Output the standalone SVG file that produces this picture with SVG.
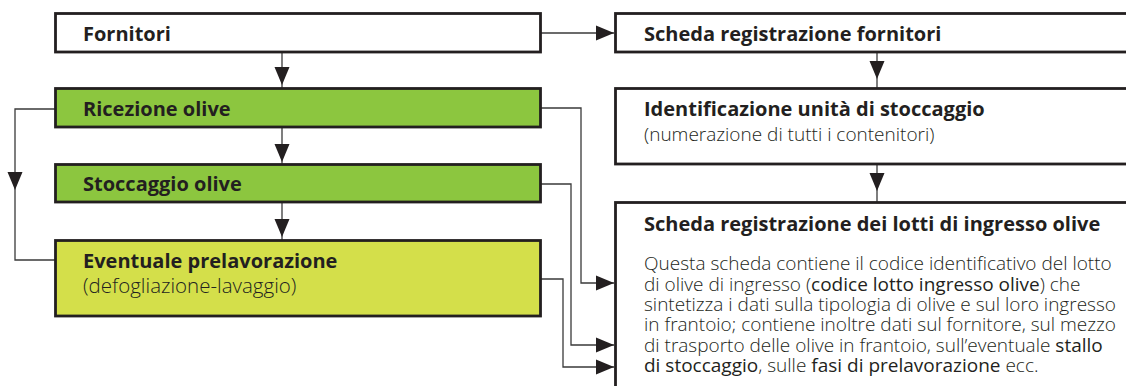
<svg xmlns="http://www.w3.org/2000/svg" xmlns:xlink="http://www.w3.org/1999/xlink" width="1126" height="386" viewBox="0 0 1126 386">
  <style>
    .box { stroke: #231f20; stroke-width: 2.8; }
    .plain { fill: #ffffff; }
    .green { fill: #8cc63f; }
    .lime { fill: #d4df4a; }
    .link { fill: none; stroke: #3a3a3a; stroke-width: 1.3; }
    .head { fill: #231f20; }
    text { font-family: "Open Sans", "Noto Sans", "Liberation Sans", sans-serif; fill: #231f20; }
    .title { font-size: 20px; font-weight: 700; }
    .sub { font-size: 19px; font-weight: 300; }
    .sub-l { font-size: 20.5px; font-weight: 300; }
    .body { font-size: 19px; font-weight: 300; }
    .em { font-weight: 500; }
  </style>
  <defs>
    <!-- arrowhead pointing right, tip at the origin -->
    <path id="ah" d="M0,0 L-18,-7.5 L-18,7.5 Z"/>
  </defs>

  <rect width="1126" height="386" fill="#ffffff"/>

  <!-- connectors -->
  <g id="connectors">
    <path class="link" d="M541,33 H614"/>
    <path class="link" d="M282,52 V88"/>
    <path class="link" d="M282,127 V164"/>
    <path class="link" d="M282,202 V240"/>
    <path class="link" d="M55,109 H15 V260 H55"/>
    <path class="link" d="M541,108 H581 V283 H614"/>
    <path class="link" d="M541,184 H571 V345 H614"/>
    <path class="link" d="M541,279 H563 V367 H614"/>
    <path class="link" d="M877,52 V88"/>
    <path class="link" d="M877,164 V202"/>

    <use xlink:href="#ah" class="head" transform="translate(614,33)"/>
    <use xlink:href="#ah" class="head" transform="translate(282,85) rotate(90)"/>
    <use xlink:href="#ah" class="head" transform="translate(282,162) rotate(90)"/>
    <use xlink:href="#ah" class="head" transform="translate(282,237) rotate(90)"/>
    <use xlink:href="#ah" class="head" transform="translate(15,190) rotate(90)"/>
    <use xlink:href="#ah" class="head" transform="translate(614,283)"/>
    <use xlink:href="#ah" class="head" transform="translate(614,345)"/>
    <use xlink:href="#ah" class="head" transform="translate(614,367)"/>
    <use xlink:href="#ah" class="head" transform="translate(877,79) rotate(90)"/>
    <use xlink:href="#ah" class="head" transform="translate(877,191) rotate(90)"/>
  </g>

  <!-- process column -->
  <g id="fornitori">
    <rect class="box plain" x="55.5" y="13.5" width="485" height="38.5"/>
    <text class="title" x="83" y="41">Fornitori</text>
  </g>
  <g id="ricezione">
    <rect class="box green" x="55.5" y="88.5" width="485" height="38.5"/>
    <text class="title" x="83" y="116">Ricezione olive</text>
  </g>
  <g id="stoccaggio">
    <rect class="box green" x="55.5" y="164.5" width="485" height="37.5"/>
    <text class="title" x="83" y="191">Stoccaggio olive</text>
  </g>
  <g id="prelavorazione">
    <rect class="box lime" x="55.5" y="240.5" width="485" height="75.5"/>
    <text class="title" x="83" y="268">Eventuale prelavorazione</text>
    <text class="sub-l" x="83" y="293">(defogliazione-lavaggio)</text>
  </g>

  <!-- records column (boxes run off the right edge) -->
  <g id="scheda-fornitori">
    <rect class="box plain" x="615.5" y="13.5" width="540" height="38.5"/>
    <text class="title" x="644" y="41">Scheda registrazione fornitori</text>
  </g>
  <g id="identificazione">
    <rect class="box plain" x="615.5" y="88.5" width="540" height="75.5"/>
    <text class="title" x="644" y="116">Identificazione unità di stoccaggio</text>
    <text class="sub" x="644" y="141">(numerazione di tutti i contenitori)</text>
  </g>
  <g id="scheda-lotti">
    <rect class="box plain" x="615.5" y="202.5" width="540" height="220"/>
    <text class="title" x="644" y="231">Scheda registrazione dei lotti di ingresso olive</text>
    <text class="body" x="644" y="270">Questa scheda contiene il codice identificativo del lotto</text>
    <text class="body" x="644" y="290.5">di olive di ingresso (<tspan class="em">codice lotto ingresso olive</tspan>) che</text>
    <text class="body" x="644" y="311">sintetizza i dati sulla tipologia di olive e sul loro ingresso</text>
    <text class="body" x="644" y="331">in frantoio; contiene inoltre dati sul fornitore, sul mezzo</text>
    <text class="body" x="644" y="351.5">di trasporto delle olive in frantoio, sull’eventuale <tspan class="em">stallo</tspan></text>
    <text class="body" x="644" y="372"><tspan class="em">di stoccaggio</tspan>, sulle <tspan class="em">fasi di prelavorazione</tspan> ecc.</text>
  </g>
</svg>
